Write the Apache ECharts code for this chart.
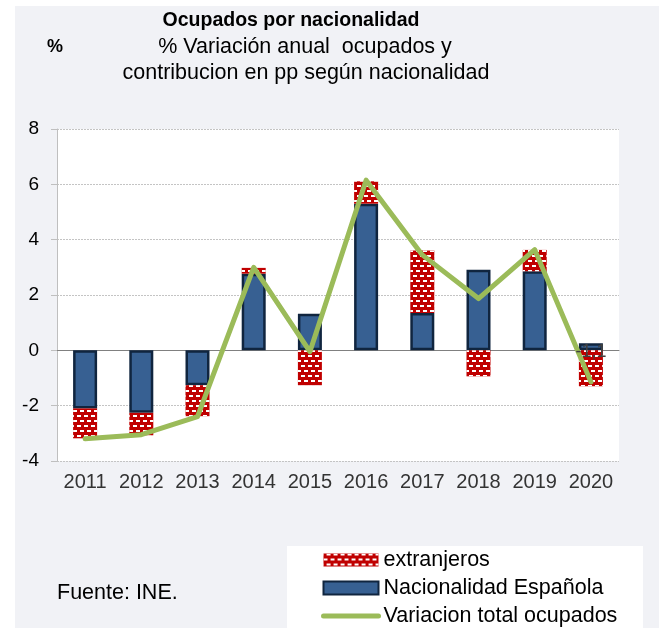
<!DOCTYPE html>
<html>
<head>
<meta charset="utf-8">
<script src="https://cdn.jsdelivr.net/npm/echarts@6/dist/echarts.min.js"></script>
<style>
  html, body { margin: 0; padding: 0; background: #fff; }
  #chart { width: 659px; height: 628px; }
</style>
</head>
<body>
<div id="chart"></div>
<script>
// datos
const years = ['2011', '2012', '2013', '2014', '2015', '2016', '2017', '2018', '2019', '2020'];
const espanoles = [-2.1, -2.26, -1.26, 2.77, 1.32, 5.3, 1.35, 2.91, 2.86, 0.26];
const extranjeros = [-1.08, -0.81, -1.12, 0.21, -1.26, 0.81, 2.26, -0.94, 0.77, -1.3];
const totalOcupados = [-3.2, -3.05, -2.4, 3.0, -0.05, 6.15, 3.45, 1.87, 3.64, -1.14];
const yTicks = [-4, -2, 0, 2, 4, 6, 8];

const FONT = '"Liberation Sans", Arial, sans-serif';

const chart = echarts.init(document.getElementById('chart'));

// etiqueta del ultimo punto (-1,1)
const totalData = totalOcupados.map((v, i) => {
  if (i !== totalOcupados.length - 1) return v;
  return {
    value: v,
    label: {
      show: true,
      position: 'top',
      distance: 20,
      formatter: p => p.value.toFixed(1).replace('.', ','),
      color: '#404040',
      fontSize: 18,
      fontFamily: FONT
    }
  };
});

const option = {
  backgroundColor: '#ffffff',
  animation: false,
  textStyle: { fontFamily: FONT },
  graphic: [
    { type: 'rect', z: -1, shape: { x: 15, y: 6, width: 644, height: 622 }, style: { fill: '#f1f2f6' } },
    { type: 'rect', z: -1, shape: { x: 287, y: 546, width: 356, height: 82 }, style: { fill: '#ffffff' } },
    { type: 'text', x: 55, y: 47, style: { text: '%', font: 'bold 18px ' + FONT, fill: '#000', textAlign: 'center', textVerticalAlign: 'middle' } },
    { type: 'text', x: 291, y: 21, style: { text: 'Ocupados por nacionalidad', font: 'bold 19.5px ' + FONT, fill: '#000', textAlign: 'center', textVerticalAlign: 'middle' } },
    { type: 'text', x: 305, y: 47, style: { text: '% Variación anual  ocupados y', font: '21.5px ' + FONT, fill: '#000', textAlign: 'center', textVerticalAlign: 'middle' } },
    { type: 'text', x: 306, y: 73, style: { text: 'contribucion en pp según nacionalidad', font: '21.5px ' + FONT, fill: '#000', textAlign: 'center', textVerticalAlign: 'middle' } },
    { type: 'text', x: 57, y: 593, style: { text: 'Fuente: INE.', font: '21.5px ' + FONT, fill: '#000', textVerticalAlign: 'middle' } }
  ],
  legend: {
    orient: 'vertical',
    left: 321,
    top: 549,
    padding: 0,
    itemWidth: 55,
    itemHeight: 13,
    itemGap: 6,
    textStyle: { fontSize: 21.5, lineHeight: 22, color: '#000', fontFamily: FONT },
    data: [
      { name: 'extranjeros', icon: 'rect' },
      { name: 'Nacionalidad Española', icon: 'rect' },
      {
        name: 'Variacion total ocupados',
        itemStyle: { opacity: 0 },
        lineStyle: { width: 5, cap: 'round', color: '#9bbb59' }
      }
    ]
  },
  grid: {
    left: 57, right: 40, top: 129, bottom: 167,
    show: true, backgroundColor: '#ffffff', borderWidth: 0
  },
  xAxis: [
    {
      type: 'category',
      data: years,
      position: 'bottom',
      axisLine: { show: false, onZero: false },
      axisTick: { show: false },
      axisLabel: { interval: 0, fontSize: 20, color: '#333', margin: 11, fontFamily: FONT }
    },
    {
      type: 'category',
      data: years,
      position: 'top',
      axisLine: { show: true, onZero: true, lineStyle: { color: '#808080', width: 1 } },
      axisTick: { show: false },
      axisLabel: { show: false }
    }
  ],
  yAxis: {
    type: 'value',
    min: yTicks[0],
    max: yTicks[yTicks.length - 1],
    interval: 2,
    axisLine: { show: true, lineStyle: { color: '#bfbfbf' } },
    axisTick: { show: true, length: 6, lineStyle: { color: '#bfbfbf' } },
    axisLabel: { fontSize: 19, color: '#000', margin: 18, fontFamily: FONT },
    splitLine: { show: true, lineStyle: { color: '#c4c4c4', type: [2, 1] } }
  },
  series: [
    {
      name: 'Nacionalidad Española',
      type: 'bar',
      stack: 'ocupados',
      barWidth: 24,
      data: espanoles,
      itemStyle: { color: '#376092', borderColor: '#10253f', borderWidth: 2.5 }
    },
    {
      name: 'extranjeros',
      type: 'bar',
      stack: 'ocupados',
      barWidth: 24,
      data: extranjeros,
      itemStyle: {
        color: '#c00000',
        decal: {
          symbol: 'rect',
          symbolSize: 1,
          color: '#ffffff',
          dashArrayX: [[4, 3], [0, 3, 4, 0]],
          dashArrayY: [2, 2.5],
          rotation: 0
        }
      }
    },
    {
      name: 'Variacion total ocupados',
      type: 'line',
      data: totalData,
      symbol: 'circle',
      symbolSize: 1,
      showSymbol: true,
      z: 5,
      lineStyle: { color: '#9bbb59', width: 5, cap: 'round', join: 'round' },
      itemStyle: { color: '#9bbb59' }
    }
  ]
};

chart.setOption(option);
</script>
</body>
</html>
